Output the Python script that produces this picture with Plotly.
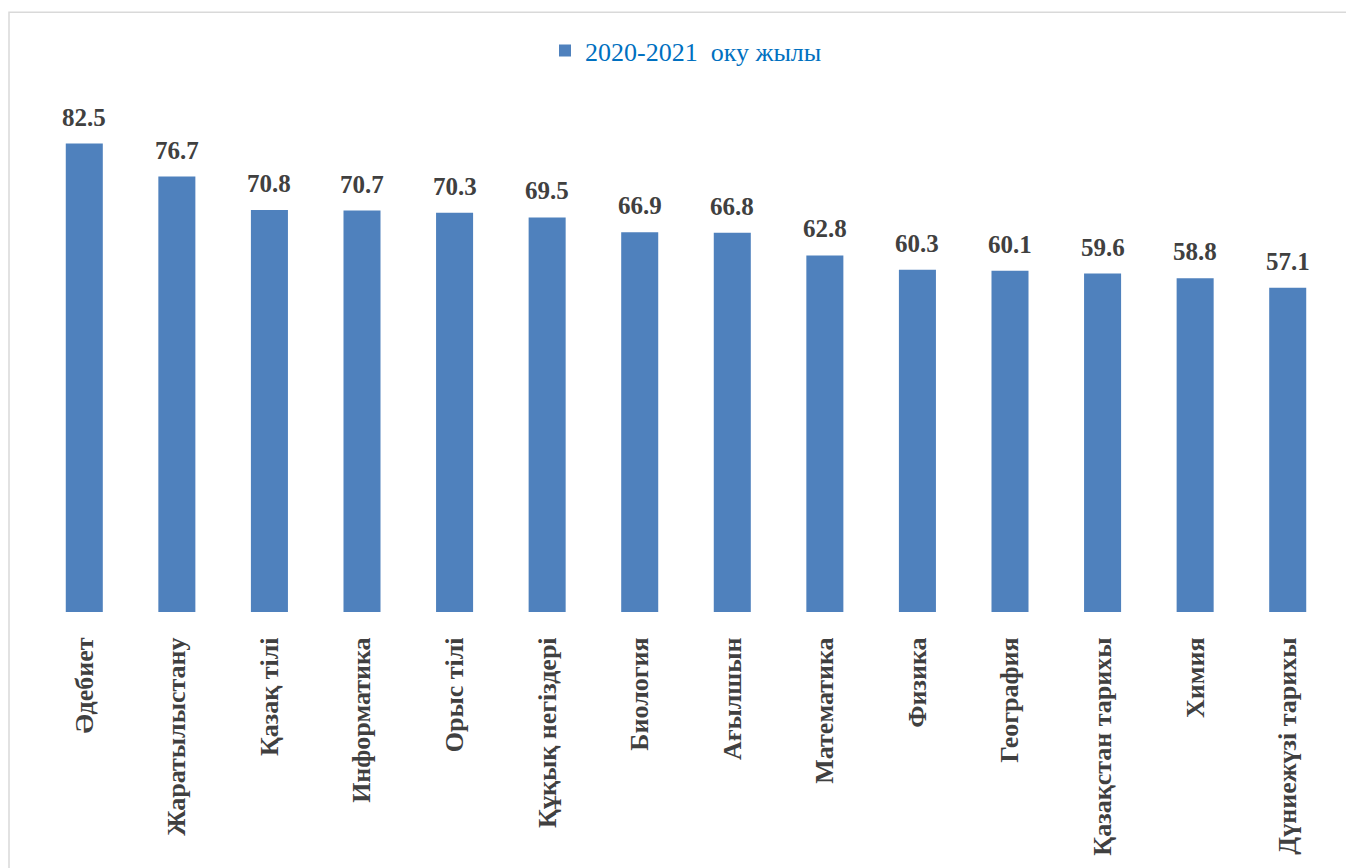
import plotly.graph_objects as go

subjects = ["Әдебиет", "Жаратылыстану", "Қазақ тілі", "Информатика", "Орыс тілі",
            "Құқық негіздері", "Биология", "Ағылшын", "Математика", "Физика",
            "География", "Қазақстан тарихы", "Химия", "Дүниежүзі тарихы"]
values = [82.5, 76.7, 70.8, 70.7, 70.3, 69.5, 66.9, 66.8, 62.8, 60.3, 60.1, 59.6, 58.8, 57.1]
series_name = "2020-2021  оку жылы"

# page has an 8px body margin, so figure coordinates are offset by 8px
OFF = 8
W, H = 1354 - OFF, 868 - OFF
ML, MR, MT, MB = 30, 20, 93, 249
pw, ph = W - ML - MR, H - MT - MB

fig = go.Figure()
fig.add_trace(go.Bar(
    x=subjects, y=values, name=series_name,
    marker=dict(color="#4F81BD", line=dict(width=0)),
    cliponaxis=False,
))

annotations = [dict(x=s, y=v, xref="x", yref="y", text=f"{v:.1f}", showarrow=False,
                    yanchor="bottom", yshift=11,
                    font=dict(family="Liberation Serif", size=25, color="#404040", weight="bold"))
               for s, v in zip(subjects, values)]

fig.update_layout(
    width=W, height=H,
    margin=dict(l=ML, r=MR, t=MT, b=MB),
    paper_bgcolor="white", plot_bgcolor="white",
    bargap=0.6,
    showlegend=True,
    legend=dict(orientation="h", x=0.5, xanchor="center", y=1 + (MT - 42) / ph, yanchor="middle",
                font=dict(family="Liberation Serif", size=26, color="#0070C0"),
                itemsizing="constant"),
    xaxis=dict(tickangle=-90, showline=False, showgrid=False, ticks="outside", ticklen=14,
               tickcolor="rgba(0,0,0,0)",
               tickfont=dict(family="Liberation Serif", size=26, color="#404040", weight="bold")),
    yaxis=dict(range=[0, 90], visible=False, showgrid=False),
    annotations=annotations,
    shapes=[dict(type="rect", xref="paper", yref="paper",
                 x0=(1 - ML) / pw, x1=(W + 60 - ML) / pw,
                 y0=1 - (H + 60 - MT) / ph, y1=1 + (MT - 3) / ph,
                 line=dict(color="#D9D9D9", width=1.5), fillcolor="rgba(0,0,0,0)", layer="below")],
)

fig.write_html("out.html")
